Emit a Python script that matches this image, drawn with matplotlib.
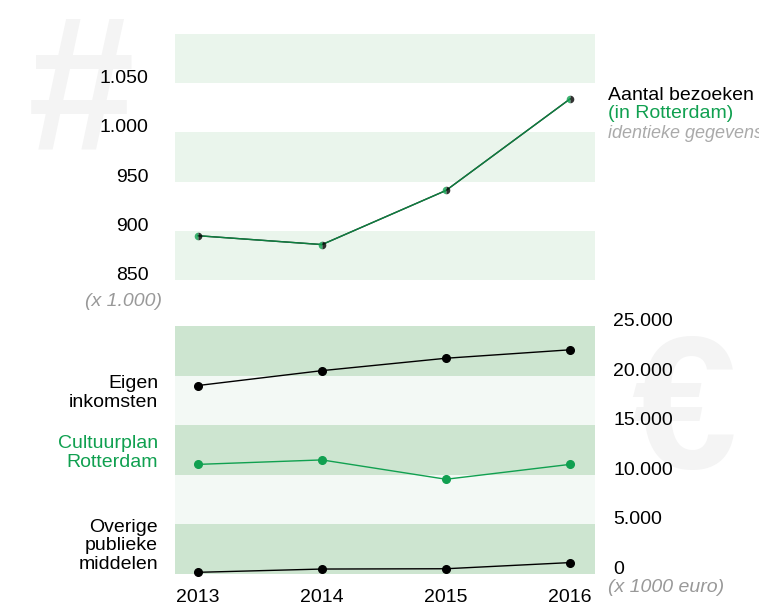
import matplotlib
matplotlib.use("Agg")
import matplotlib.pyplot as plt

plt.rcParams['font.family'] = ['Liberation Sans', 'DejaVu Sans']

# ── data ────────────────────────────────────────────────────────────────
years = [2013, 2014, 2015, 2016]
bezoeken = [895, 886, 941, 1034]            # x 1.000, total
bezoeken_rdam = [895, 886, 941, 1034]       # in Rotterdam (identical)
eigen_inkomsten = [19000, 20500, 21750, 22600]
cultuurplan = [11050, 11500, 9550, 11050]
overige_publiek = [170, 500, 530, 1150]

top_ticks = [850, 900, 950, 1000, 1050]
top_tick_labels = ["850", "900", "950", "1.000", "1.050"]
bot_ticks = [0, 5000, 10000, 15000, 20000, 25000]
bot_tick_labels = ["0", "5.000", "10.000", "15.000", "20.000", "25.000"]

GREEN = "#10a050"
GREY = "#999999"
W, H = 759, 605
FS = 14

fig = plt.figure(figsize=(W / 100, H / 100), dpi=100)


def px_axes(x0, y0, x1, y1):
    ax = fig.add_axes([x0 / W, 1 - y1 / H, (x1 - x0) / W, (y1 - y0) / H])
    ax.set_zorder(2)
    return ax


# watermarks (behind everything)
fig.text(81 / W, 1 - 100 / H, "#", fontsize=138, fontweight="bold", color="#f4f4f4",
         ha="center", va="center", zorder=0)
fig.text(684 / W, 1 - 419 / H, "€", fontsize=136, fontweight="bold", color="#f4f4f4",
         ha="center", va="center", zorder=0)

xlim = (2013 - 23 / 124, 2016 + 25 / 124)

# ── top panel: visits ───────────────────────────────────────────────────
ax1 = px_axes(175, 34, 595, 280)
ax1.set_facecolor("none")
for lo in (850, 950, 1050):
    ax1.axhspan(lo, lo + 50, color="#eaf5ec", lw=0, zorder=0)
ax1.plot(years, bezoeken, color="black", lw=1, zorder=2)
ax1.plot(years, bezoeken_rdam, color=GREEN, lw=1, zorder=3, alpha=0.8,
         marker="o", ms=5.5, fillstyle="left", markerfacecolor=GREEN,
         markerfacecoloralt="black", markeredgewidth=0)
ax1.set_xlim(*xlim)
ax1.set_ylim(850, 1100)
ax1.set_xticks([])
ax1.set_yticks(top_ticks, top_tick_labels)
ax1.tick_params(axis="y", length=0, pad=19, labelsize=FS)
for lab in ax1.get_yticklabels():
    lab.set_va("baseline")
for s in ax1.spines.values():
    s.set_visible(False)

fig.text(162 / W, 1 - 301 / H, "(x 1.000)", fontsize=FS, style="italic", color=GREY,
         ha="right", va="center", zorder=3)
fig.text(608 / W, 1 - 95 / H, "Aantal bezoeken", fontsize=FS, color="black",
         ha="left", va="center", zorder=3)
fig.text(608 / W, 1 - 113 / H, "(in Rotterdam)", fontsize=FS, color=GREEN,
         ha="left", va="center", zorder=3)
fig.text(608 / W, 1 - 134 / H, "identieke gegevens", fontsize=13, style="italic",
         color="#aaaaaa", ha="left", va="center", zorder=3)

# ── bottom panel: income ────────────────────────────────────────────────
ax2 = px_axes(175, 326, 595, 574)
ax2.set_facecolor("none")
for i, lo in enumerate(range(0, 25000, 5000)):
    c = "#cde5d0" if i % 2 == 0 else "#f3f9f5"
    ax2.axhspan(lo, lo + 5000, color=c, lw=0, zorder=0)
ax2.plot(years, eigen_inkomsten, color="black", lw=1, marker="o", ms=5.5, zorder=3)
ax2.plot(years, cultuurplan, color=GREEN, lw=1, marker="o", ms=5.5, zorder=3)
ax2.plot(years, overige_publiek, color="black", lw=1, marker="o", ms=5.5, zorder=3,
         clip_on=False)
ax2.set_xlim(*xlim)
ax2.set_ylim(0, 25000)
ax2.set_xticks(years, [str(y) for y in years])
ax2.yaxis.tick_right()
ax2.set_yticks(bot_ticks, bot_tick_labels)
ax2.tick_params(axis="y", length=0, pad=13, labelsize=FS)
ax2.tick_params(axis="x", length=0, pad=11, labelsize=FS)
for lab in ax2.get_yticklabels():
    lab.set_va("baseline")
for s in ax2.spines.values():
    s.set_visible(False)

fig.text(608 / W, 1 - 588 / H, "(x 1000 euro)", fontsize=FS, style="italic", color=GREY,
         ha="left", va="center", zorder=3)

fig.text(158 / W, 1 - 393 / H, "Eigen\ninkomsten", fontsize=FS, color="black",
         ha="right", va="center", linespacing=1.12, zorder=3)
fig.text(158 / W, 1 - 453 / H, "Cultuurplan\nRotterdam", fontsize=FS, color=GREEN,
         ha="right", va="center", linespacing=1.12, zorder=3)
fig.text(158 / W, 1 - 546 / H, "Overige\npublieke\nmiddelen", fontsize=FS, color="black",
         ha="right", va="center", linespacing=1.12, zorder=3)

fig.savefig("out.png", dpi=100)
